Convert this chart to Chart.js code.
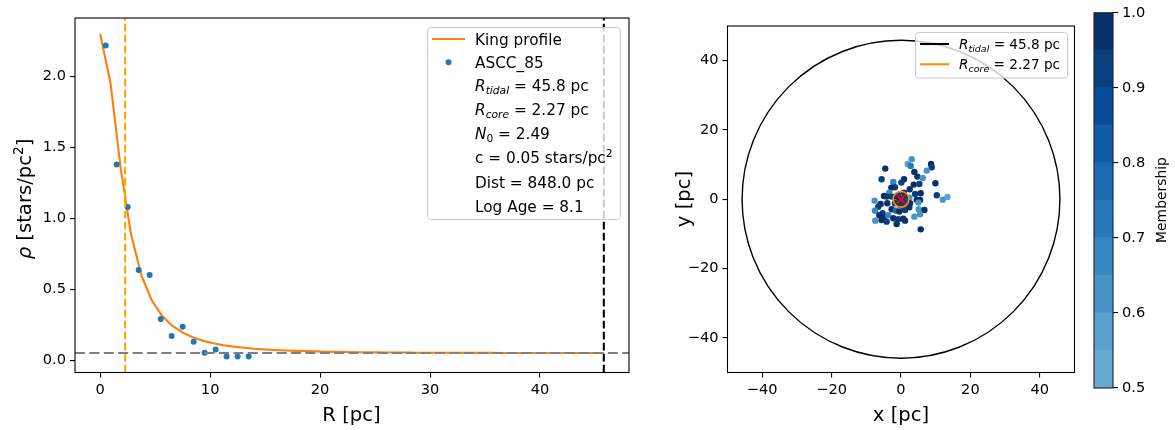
<!DOCTYPE html>
<html><head><meta charset="utf-8">
<script src="https://cdn.jsdelivr.net/npm/chart.js@4.4.0/dist/chart.umd.min.js"></script>
<style>
html,body{margin:0;padding:0;background:#fff;width:1175px;height:430px;overflow:hidden}
canvas{position:absolute;left:0;top:0}
</style></head><body>
<canvas id="c1" width="1175" height="430"></canvas>
<canvas id="c2" width="1175" height="430"></canvas>
<canvas id="c3" width="1175" height="430"></canvas>
<script>
// ---------- data ----------
const PROFILE_R = [0.5,1.5,2.5,3.5,4.5,5.5,6.5,7.5,8.5,9.5,10.5,11.5,12.5,13.5];
const PROFILE_DENSITY = [2.22,1.38,1.08,0.636,0.60,0.29,0.17,0.235,0.13,0.052,0.075,0.026,0.026,0.026];
const KING_R = [0,0.935,1.869,2.804,3.739,4.673,5.608,6.543,7.478,8.412,9.347,10.282,11.216,12.151,13.086,14.020,14.955,15.890,16.824,17.759,18.694,19.629,20.563,21.498,22.433,23.367,24.302,25.237,26.171,27.106,28.041,28.976,29.910,30.845,31.780,32.714,33.649,34.584,35.518,36.453,37.388,38.322,39.257,40.192,41.126,42.061,42.996,43.931,44.865,45.800];
const KING_DENSITY = [2.300,1.957,1.350,0.887,0.599,0.424,0.314,0.243,0.195,0.161,0.137,0.119,0.105,0.095,0.087,0.080,0.075,0.071,0.068,0.065,0.063,0.061,0.059,0.058,0.0565,0.0555,0.0547,0.054,0.0534,0.0529,0.0524,0.052,0.0517,0.0514,0.0512,0.051,0.0508,0.0506,0.0505,0.0504,0.0503,0.0502,0.0502,0.0501,0.0501,0.05,0.05,0.05,0.05,0.05];
const R_TIDAL = 45.8;
const R_CORE = 2.27;
const BACKGROUND = 0.05;
const R_TICKS = [0,10,20,30,40];
const RHO_TICKS = [0.0,0.5,1.0,1.5,2.0];
const R_LIMITS = [-2.29, 48.09];
const RHO_LIMITS = [-0.0877, 2.4134];

const MEMBER_X = [3.08,1.93,2.79,8.67,8.86,7.42,-4.53,3.85,4.72,6.26,0.87,0.10,-2.22,-5.59,3.66,5.30,9.92,-1.73,-2.79,2.50,-3.37,0.87,4.05,5.68,10.31,-4.91,-4.14,-2.70,2.41,4.53,5.49,5.01,12.04,13.39,-7.61,-5.88,-6.55,-3.95,-2.70,-1.45,-0.48,1.16,2.41,5.11,6.74,-7.51,-5.30,-6.26,-4.91,-3.66,-2.22,-0.77,0.67,-7.42,-5.59,-4.14,-1.25,1.16,3.85,5.49,5.68,-1.73,-0.77,1.16,1.64,-0.29,-1.73,0.67,2.60,-0.50,0.60];
const MEMBER_Y = [11.55,10.20,9.62,10.20,9.24,8.27,8.85,7.89,6.54,6.16,5.77,4.81,5.00,5.77,4.23,4.42,4.62,3.46,3.36,2.88,1.92,1.92,1.53,1.72,1.15,0.95,0.76,0.76,0.47,-0.20,-0.20,-0.97,-0.11,0.66,-0.40,-1.36,-2.13,-1.17,-2.90,-3.29,-3.57,-3.09,-2.32,-2.90,-3.09,-3.29,-4.06,-4.63,-5.02,-4.63,-5.50,-5.79,-5.60,-6.18,-5.98,-6.47,-7.14,-6.18,-5.02,-4.34,-8.68,0.76,1.24,0.76,-0.68,-1.65,-1.17,-2.13,-1.17,0.20,-0.60];
const MEMBERSHIP = [0.60,0.57,0.72,0.96,0.93,0.62,0.97,0.95,0.98,0.63,0.96,0.92,0.66,0.91,0.97,0.94,0.98,0.93,0.95,0.99,0.68,0.97,0.92,0.96,0.94,0.97,0.99,0.92,0.64,0.95,0.98,0.63,0.61,0.56,0.64,0.97,0.93,0.95,0.98,0.78,0.96,0.94,0.97,0.62,0.96,0.66,0.92,0.98,0.95,0.67,0.97,0.91,0.99,0.63,0.96,0.93,0.97,0.95,0.64,0.61,0.98,0.96,0.93,0.97,0.82,0.95,0.98,0.92,0.96,0.99,0.94];
const XY_TICKS = [-40,-20,0,20,40];
const XY_LIMITS = [-50, 50];
const CENTER = [0, 0];

const MEMBERSHIP_BOUNDS = [0.5,0.55,0.6,0.65,0.7,0.75,0.8,0.85,0.9,0.95,1.0];
const BAND_COLORS = ['#66aad4','#59a2cf','#4795c8','#3787c0','#2878b9','#1b6aaf','#105ca4','#084d97','#083f81','#08306b'];
const CBAR_TICKS = [0.5,0.6,0.7,0.8,0.9,1.0];

// ---------- helpers ----------
const FAM = '"DejaVu Sans", sans-serif';
const TICK_FS = 14.6;
Chart.defaults.font.family = FAM;
Chart.defaults.color = '#000';
function fontOf(s, size){ return (s.it ? 'italic ' : '') + (size*(s.sc||1)).toFixed(2) + 'px ' + FAM; }
function rich(ctx, x, y, segs, size, align){
  ctx.textBaseline = 'alphabetic'; ctx.textAlign = 'left';
  let w = 0;
  for (const s of segs){ ctx.font = fontOf(s,size); w += ctx.measureText(s.t).width; }
  let cx = align === 'center' ? x - w/2 : x;
  for (const s of segs){ ctx.font = fontOf(s,size); ctx.fillText(s.t, cx, y + (s.dy||0)*size); cx += ctx.measureText(s.t).width; }
}
function rrect(ctx, x0, y0, x1, y1, r){
  ctx.beginPath();
  ctx.moveTo(x0+r,y0); ctx.lineTo(x1-r,y0); ctx.arcTo(x1,y0,x1,y0+r,r);
  ctx.lineTo(x1,y1-r); ctx.arcTo(x1,y1,x1-r,y1,r);
  ctx.lineTo(x0+r,y1); ctx.arcTo(x0,y1,x0,y1-r,r);
  ctx.lineTo(x0,y0+r); ctx.arcTo(x0,y0,x0+r,y0,r); ctx.closePath();
}
function frame(ctx, a, color){
  ctx.save(); ctx.strokeStyle = color || '#000'; ctx.lineWidth = 1.1;
  ctx.strokeRect(a.left, a.top, a.right-a.left, a.bottom-a.top); ctx.restore();
}
const SUB = (t)=>({t, it:true, sc:0.7, dy:0.22});
function tickAxis(ticksArr, fmt, fit){
  return {
    afterBuildTicks: s => { s.ticks = ticksArr.map(v=>({value:v})); },
    afterFit: fit,
    grid: { drawOnChartArea:false, drawTicks:true, tickLength:5, color:'#000', lineWidth:1.1 },
    border: { display:false },
    ticks: { padding:4, maxRotation:0, autoSkip:false, font:{size:TICK_FS, family:FAM}, color:'#000', callback: fmt }
  };
}
const minus = v => (v < 0 ? '\u2212' + Math.abs(v) : String(v));

// ---------- left chart ----------
const leftDecor = {
  id:'leftDecor',
  afterDatasetsDraw(chart){
    const ctx = chart.ctx;
    ctx.save();
    rrect(ctx, 427.5, 27.5, 620.5, 219.5, 3);
    ctx.fillStyle = 'rgba(255,255,255,0.8)'; ctx.fill();
    ctx.strokeStyle = '#cccccc'; ctx.lineWidth = 1; ctx.stroke();
    const rows = [39, 62.3, 85.5, 109.5, 133.5, 157.5, 182.3, 206.7];
    const fs = 15.3, tx = 475, off = 0.36*fs;
    ctx.strokeStyle = '#ff7f0e'; ctx.lineWidth = 2.1;
    ctx.beginPath(); ctx.moveTo(432, rows[0]); ctx.lineTo(465, rows[0]); ctx.stroke();
    ctx.fillStyle = '#1f77b4'; ctx.beginPath(); ctx.arc(448.5, rows[1], 3, 0, Math.PI*2); ctx.fill();
    ctx.fillStyle = '#000';
    const texts = [
      [{t:'King profile'}],
      [{t:'ASCC_85'}],
      [{t:'R', it:true}, SUB('tidal'), {t:' = 45.8 pc'}],
      [{t:'R', it:true}, SUB('core'), {t:' = 2.27 pc'}],
      [{t:'N', it:true}, {t:'0', sc:0.7, dy:0.22}, {t:' = 2.49'}],
      [{t:'c = 0.05 stars/pc'}, {t:'2', sc:0.7, dy:-0.42}],
      [{t:'Dist = 848.0 pc'}],
      [{t:'Log Age = 8.1'}]
    ];
    texts.forEach((segs,i)=> rich(ctx, tx, rows[i]+off, segs, fs));
    frame(ctx, chart.chartArea);
    ctx.restore();
  },
  afterDraw(chart){
    const ctx = chart.ctx; ctx.save(); ctx.fillStyle = '#000';
    rich(ctx, 351.5, 421, [{t:'R [pc]'}], 19.6, 'center');
    ctx.translate(31, 199); ctx.rotate(-Math.PI/2);
    rich(ctx, 0, 0, [{t:'\u03c1', it:true}, {t:' [stars/pc'}, {t:'2', sc:0.7, dy:-0.42}, {t:']'}], 19.6, 'center');
    ctx.restore();
  }
};
const xs1 = Object.assign({type:'linear', position:'bottom', min:R_LIMITS[0], max:R_LIMITS[1]},
  tickAxis(R_TICKS, v=>String(v), s=>{ s.height = 57.5; }));
const ys1 = Object.assign({type:'linear', position:'left', min:RHO_LIMITS[0], max:RHO_LIMITS[1]},
  tickAxis(RHO_TICKS, v=>v.toFixed(1), s=>{ s.width = 75; }));

new Chart(document.getElementById('c1'), {
  type:'scatter',
  data:{ datasets:[
    { data:[{x:R_LIMITS[0],y:BACKGROUND},{x:R_LIMITS[1],y:BACKGROUND}], showLine:true, borderColor:'#808080', borderWidth:2.1, borderDash:[10,4.4], pointRadius:0 },
    { data:[{x:R_CORE,y:RHO_LIMITS[0]},{x:R_CORE,y:RHO_LIMITS[1]}], showLine:true, borderColor:'#ffa500', borderWidth:2.1, borderDash:[7.7,3.3], pointRadius:0 },
    { data:[{x:R_TIDAL,y:RHO_LIMITS[0]},{x:R_TIDAL,y:RHO_LIMITS[1]}], showLine:true, borderColor:'#000000', borderWidth:2.1, borderDash:[7.7,3.3], pointRadius:0 },
    { data:PROFILE_R.map((r,i)=>({x:r,y:PROFILE_DENSITY[i]})), showLine:false, pointRadius:3, backgroundColor:'#1f77b4', borderWidth:0, pointBorderWidth:0 },
    { data:KING_R.map((r,i)=>({x:r,y:KING_DENSITY[i]})), showLine:true, borderColor:'#ff7f0e', borderWidth:2.1, pointRadius:0 }
  ]},
  options:{
    responsive:false, animation:false, devicePixelRatio:1, events:[],
    layout:{ padding:{ left:0, right:1175-629, top:18, bottom:0 } },
    plugins:{ legend:{display:false}, tooltip:{enabled:false} },
    scales:{ x:xs1, y:ys1 }
  },
  plugins:[leftDecor]
});

// ---------- right chart ----------
const rightDecor = {
  id:'rightDecor',
  afterDatasetDraw(chart, args){
    if (args.index !== 1) return;
    const ctx = chart.ctx, xs = chart.scales.x, ys = chart.scales.y;
    const cx = xs.getPixelForValue(CENTER[0]), cy = ys.getPixelForValue(CENTER[1]);
    ctx.save();
    const a = chart.chartArea; ctx.beginPath(); ctx.rect(a.left,a.top,a.right-a.left,a.bottom-a.top); ctx.clip();
    ctx.strokeStyle = '#000'; ctx.lineWidth = 1.4;
    ctx.beginPath(); ctx.arc(cx, cy, xs.getPixelForValue(R_TIDAL) - cx, 0, Math.PI*2); ctx.stroke();
    ctx.strokeStyle = '#ff8c00'; ctx.lineWidth = 1.6;
    ctx.beginPath(); ctx.arc(cx, cy, xs.getPixelForValue(R_CORE) - cx, 0, Math.PI*2); ctx.stroke();
    ctx.restore();
  },
  afterDatasetsDraw(chart){
    const ctx = chart.ctx; ctx.save();
    rrect(ctx, 915.5, 32.5, 1067.5, 78, 3);
    ctx.fillStyle = 'rgba(255,255,255,0.8)'; ctx.fill();
    ctx.strokeStyle = '#cccccc'; ctx.lineWidth = 1; ctx.stroke();
    const rows = [44, 64.3], fs = 13.6;
    ctx.lineWidth = 2.1;
    ctx.strokeStyle = '#000'; ctx.beginPath(); ctx.moveTo(920, rows[0]); ctx.lineTo(949, rows[0]); ctx.stroke();
    ctx.strokeStyle = '#ff8c00'; ctx.beginPath(); ctx.moveTo(920, rows[1]); ctx.lineTo(949, rows[1]); ctx.stroke();
    ctx.fillStyle = '#000';
    rich(ctx, 959, rows[0]+0.36*fs, [{t:'R',it:true}, SUB('tidal'), {t:' = 45.8 pc'}], fs);
    rich(ctx, 959, rows[1]+0.36*fs, [{t:'R',it:true}, SUB('core'), {t:' = 2.27 pc'}], fs);
    frame(ctx, chart.chartArea);
    ctx.restore();
  },
  afterDraw(chart){
    const ctx = chart.ctx; ctx.save(); ctx.fillStyle = '#000';
    rich(ctx, 901, 421, [{t:'x [pc]'}], 19.6, 'center');
    ctx.translate(690, 199); ctx.rotate(-Math.PI/2);
    rich(ctx, 0, 0, [{t:'y [pc]'}], 19.6, 'center');
    ctx.restore();
  }
};
const bandColor = m => BAND_COLORS[Math.max(0, Math.min(9, Math.floor((m-0.5)/0.05 + 1e-9)))];
const xs2 = Object.assign({type:'linear', position:'bottom', min:XY_LIMITS[0], max:XY_LIMITS[1]},
  tickAxis(XY_TICKS, minus, s=>{ s.height = 57.5; }));
const ys2 = Object.assign({type:'linear', position:'left', min:XY_LIMITS[0], max:XY_LIMITS[1]},
  tickAxis(XY_TICKS, minus, s=>{ s.width = 60; }));
new Chart(document.getElementById('c2'), {
  type:'scatter',
  data:{ datasets:[
    { data:[{x:CENTER[0], y:CENTER[1]}], pointStyle:'crossRot', pointRadius:6, borderColor:'#ff0000', pointBorderWidth:1.8, borderWidth:1.8 },
    { data:MEMBER_X.map((x,i)=>({x, y:MEMBER_Y[i]})), pointRadius:3.2, borderWidth:0, pointBorderWidth:0, backgroundColor:MEMBERSHIP.map(bandColor) }
  ]},
  options:{
    responsive:false, animation:false, devicePixelRatio:1, events:[],
    layout:{ padding:{ left:727.5-60, right:1175-1074.5, top:26, bottom:0 } },
    plugins:{ legend:{display:false}, tooltip:{enabled:false} },
    scales:{ x:xs2, y:ys2 }
  },
  plugins:[rightDecor]
});

// ---------- colorbar ----------
const cbarDecor = {
  id:'cbarDecor',
  afterDatasetsDraw(chart){ frame(chart.ctx, chart.chartArea, '#222'); },
  afterDraw(chart){
    const ctx = chart.ctx; ctx.save(); ctx.fillStyle = '#000';
    ctx.translate(1166, 200); ctx.rotate(-Math.PI/2);
    rich(ctx, 0, 0, [{t:'Membership'}], 13.9, 'center');
    ctx.restore();
  }
};
const ys3 = Object.assign({type:'linear', position:'right', min:0.5, max:1.0},
  tickAxis(CBAR_TICKS, v=>v.toFixed(1), s=>{ s.width = 40; }));
new Chart(document.getElementById('c3'), {
  type:'bar',
  data:{ labels:['m'], datasets: BAND_COLORS.map((c,i)=>({
    data:[[MEMBERSHIP_BOUNDS[i], MEMBERSHIP_BOUNDS[i+1]]], backgroundColor:c, borderWidth:0,
    barPercentage:1, categoryPercentage:1, grouped:false, inflateAmount:0.5 })) },
  options:{
    responsive:false, animation:false, devicePixelRatio:1, events:[],
    layout:{ padding:{ left:1094, right:1175-1113-40, top:12, bottom:42 } },
    plugins:{ legend:{display:false}, tooltip:{enabled:false} },
    scales:{ x:{display:false}, y:ys3 }
  },
  plugins:[cbarDecor]
});
</script>
</body></html>
